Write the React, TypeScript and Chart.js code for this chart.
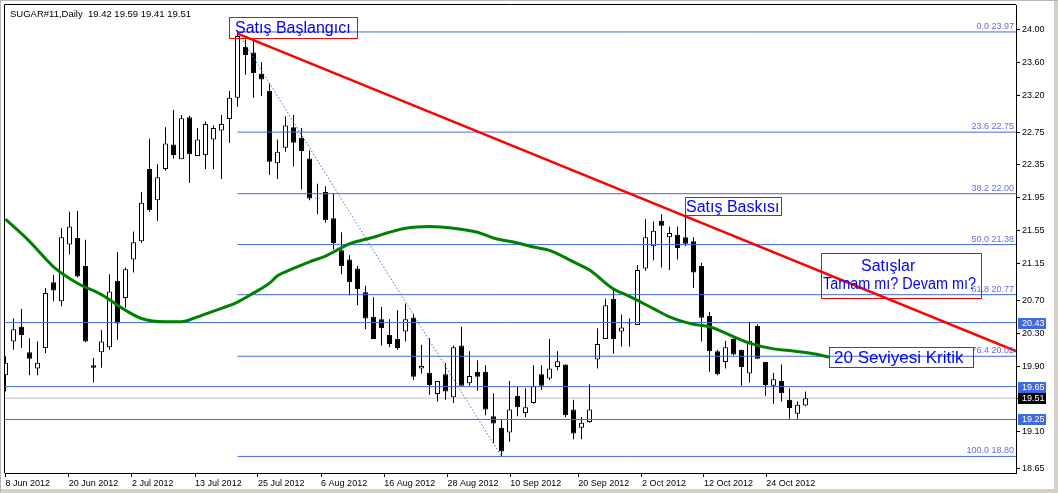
import React, { useEffect, useRef } from "react";
import { Chart, registerables } from "chart.js";

Chart.register(...registerables);

// ---------- data ----------
const symbolLabel = "SUGAR#11,Daily";
const lastQuote = [19.42, 19.59, 19.41, 19.51];

const opens = [
  19.79, 20.2, 20.38, 20.07, 19.87, 20.12, 20.92, 20.69, 21.38, 21.46,
  21.12, 19.91, 20.07, 20.13, 20.94, 20.73, 21.2, 21.42, 22.3, 21.92,
  22.3, 22.6, 22.42, 22.93, 22.46, 22.47, 22.66, 22.77, 22.91, 23.17,
  23.79, 23.72, 23.46, 23.25, 22.37, 22.56, 22.81, 22.68, 22.43, 21.95,
  22.02, 21.7, 21.31, 21.2, 21.09, 20.8, 20.5, 20.47, 20.28, 20.23,
  20.32, 20.49, 19.87, 19.82, 19.56, 19.8, 19.52, 20.15, 19.69, 19.83,
  19.83, 19.29, 19.15, 19.09, 19.54, 19.33, 19.45, 19.8, 19.75, 19.89,
  19.92, 19.37, 19.15, 19.22, 19.98, 20.23, 20.72, 20.32, 20.42, 20.4,
  21.09, 21.36, 21.67, 21.47, 21.5, 21.47, 21.42, 21.12, 20.51, 20.08,
  19.95, 20.23, 20.1, 19.81, 20.39, 19.95, 19.66, 19.72, 19.49, 19.32,
  19.42,
];
const highs = [
  20.02, 20.48, 20.6, 20.24, 20.2, 20.85, 21.01, 21.58, 21.78, 21.79,
  21.44, 20.0, 20.34, 21.02, 21.29, 21.1, 21.54, 22.02, 22.67, 22.36,
  22.81, 23.02, 22.96, 22.95, 22.8, 22.88, 22.83, 22.96, 23.25, 23.97,
  23.88, 23.88, 23.6, 23.34, 22.66, 22.94, 22.96, 22.8, 22.53, 22.12,
  22.09, 22.0, 21.53, 21.25, 21.12, 20.88, 20.74, 20.62, 20.47, 20.58,
  20.66, 20.54, 20.16, 20.24, 19.72, 19.94, 20.15, 20.38, 20.08, 19.97,
  19.91, 19.57, 19.25, 19.72, 19.65, 19.63, 19.91, 19.91, 20.23, 20.08,
  19.92, 19.49, 19.28, 19.68, 20.36, 20.72, 20.85, 20.53, 20.48, 21.13,
  21.69, 21.66, 21.75, 21.6, 21.6, 21.72, 21.47, 21.16, 20.56, 20.1,
  20.21, 20.24, 20.1, 20.44, 20.41, 19.95, 19.82, 19.92, 19.63, 19.47,
  19.59,
];
const lows = [
  19.59, 20.1, 20.12, 19.79, 19.79, 20.06, 20.69, 20.63, 21.26, 20.98,
  20.19, 19.7, 19.88, 20.1, 20.22, 20.61, 21.04, 21.4, 21.78, 21.67,
  22.28, 22.43, 22.42, 22.13, 22.46, 22.3, 22.3, 22.18, 22.62, 23.06,
  23.45, 23.17, 23.19, 22.23, 22.18, 22.51, 22.33, 22.05, 21.92, 21.75,
  21.65, 21.32, 21.02, 20.76, 20.64, 20.35, 20.23, 20.15, 20.13, 20.1,
  20.2, 19.73, 19.81, 19.55, 19.47, 19.49, 19.45, 19.66, 19.66, 19.6,
  19.3, 18.96, 18.8, 18.98, 19.29, 19.28, 19.44, 19.61, 19.73, 19.85,
  19.28, 19.01, 19.01, 19.21, 19.87, 20.23, 20.05, 20.14, 20.14, 20.4,
  21.06, 21.19, 21.1, 21.07, 21.2, 21.36, 20.85, 20.2, 19.83, 19.79,
  19.87, 20.03, 19.66, 19.7, 19.99, 19.54, 19.44, 19.47, 19.26, 19.26,
  19.41,
];
const closes = [
  19.94, 20.35, 20.28, 19.99, 19.94, 20.79, 20.82, 21.47, 21.6, 20.99,
  20.2, 19.88, 20.2, 20.81, 20.42, 21.08, 21.41, 21.89, 21.8, 22.2,
  22.61, 22.47, 22.92, 22.48, 22.66, 22.85, 22.8, 22.85, 23.17, 23.92,
  23.69, 23.47, 23.39, 22.39, 22.51, 22.83, 22.62, 22.52, 21.94, 21.94,
  21.68, 21.4, 21.12, 20.92, 20.84, 20.48, 20.23, 20.36, 20.17, 20.12,
  20.47, 19.77, 19.9, 19.67, 19.72, 19.59, 20.13, 19.66, 19.78, 19.77,
  19.37, 19.2, 18.86, 19.37, 19.4, 19.4, 19.66, 19.66, 19.87, 19.96,
  19.3, 19.08, 19.21, 19.37, 20.17, 20.64, 20.23, 20.37, 20.43, 21.07,
  21.47, 21.55, 21.61, 21.52, 21.34, 21.39, 21.04, 20.49, 20.08, 19.8,
  20.13, 20.04, 19.89, 20.21, 19.99, 19.67, 19.74, 19.57, 19.39, 19.43,
  19.51,
];

const dateTickIndex = [0, 7.9, 15.8, 23.7, 31.55, 39.45, 47.35, 55.25, 63.1, 71.6, 79.55, 87.3, 95.1];
const dateLabels = [
  "8 Jun 2012", "20 Jun 2012", "2 Jul 2012", "13 Jul 2012", "25 Jul 2012",
  "6 Aug 2012", "16 Aug 2012", "28 Aug 2012", "10 Sep 2012", "20 Sep 2012",
  "2 Oct 2012", "12 Oct 2012", "24 Oct 2012",
];
const priceTicks = [24.0, 23.6, 23.2, 22.75, 22.35, 21.95, 21.55, 21.15, 20.7, 20.3, 19.9, 19.5, 19.1, 18.65];

const maIndex = [0, 3, 6, 9, 12, 15, 17, 20, 22, 24, 26, 29, 31, 33, 34, 36, 38, 40, 43, 46, 48, 50, 53, 56, 59, 61, 64, 66, 68, 71, 73, 76, 78, 81, 83, 86, 88, 91, 93, 96, 98, 101, 103];
const maValues = [21.69, 21.42, 21.11, 20.91, 20.77, 20.58, 20.48, 20.44, 20.44, 20.5, 20.57, 20.68, 20.79, 20.91, 21.0, 21.09, 21.17, 21.24, 21.39, 21.47, 21.53, 21.58, 21.6, 21.58, 21.53, 21.46, 21.4, 21.35, 21.31, 21.17, 21.07, 20.84, 20.75, 20.6, 20.5, 20.41, 20.38, 20.26, 20.18, 20.11, 20.09, 20.05, 20.01];

const fibStartIndex = 29;
const fibLevels = [0.0, 23.6, 38.2, 50.0, 61.8, 76.4, 100.0];
const fibPrices = [23.97, 22.75, 22.0, 21.38, 20.77, 20.02, 18.8];
const levelPrices = [20.43, 19.65, 19.25];
const bidPrice = 19.51;
const trendIndex = [29, 126.4];
const trendPrices = [23.95, 20.08];
const swingIndex = [29, 62];
const swingPrices = [23.97, 18.8];

const noteTexts = [
  ["Satış Başlangıcı"],
  ["Satış Baskısı"],
  ["Satışlar", "Tamam mı? Devam mı?"],
  ["20 Seviyesi Kritik"],
];
// anchor (bar index, price) of each note box's top-left corner
const noteAnchorIndex = [27.94, 84.94, 101.94, 102.94];
const noteAnchorPrice = [24.152, 21.96, 21.278, 20.133];

// ---------- layout / style ----------
const W = 1058;
const H = 493;
const X_MIN = -0.0625;
const X_MAX = X_MIN + 1011 / 8;
const Y_MAX = 24.2984;
const Y_MIN = 18.598;
const SMALL_FONT = "Liberation Sans";
const NOTE_FONT = "Liberation Sans";
const LINE_BLUE = "#4169e1";
const FIB_TEXT = "#6b6bdf";

const noteLayout = [
  { w: 128, h: 21, size: 16, lines: [{ dx: 6, dy: 16, max: 0 }] },
  { w: 96, h: 18, size: 16, lines: [{ dx: 1, dy: 14.5, max: 0 }] },
  { w: 160, h: 45, size: 16, lines: [{ dx: 40, dy: 18, max: 64 }, { dx: 2, dy: 36, max: 153 }] },
  { w: 144, h: 20, size: 17, lines: [{ dx: 5, dy: 16, max: 136 }] },
];

const overlayPlugin = {
  id: "mtOverlay",
  beforeDraw(chart: any) {
    const { ctx } = chart;
    ctx.save();
    ctx.fillStyle = "#ffffff";
    ctx.fillRect(0, 0, W, H);
    ctx.restore();
  },
  afterDatasetsDraw(chart: any) {
    const { ctx, chartArea } = chart;
    const xs = chart.scales.x;
    const ys = chart.scales.y;
    ctx.save();
    // fib labels
    ctx.font = `9px "${SMALL_FONT}"`;
    ctx.fillStyle = FIB_TEXT;
    ctx.textAlign = "right";
    ctx.textBaseline = "bottom";
    fibLevels.forEach((lv, i) => {
      const y = ys.getPixelForValue(fibPrices[i]);
      ctx.fillText(`${lv.toFixed(1)} ${fibPrices[i].toFixed(2)}`, chartArea.right - 2, y - 1);
    });
    // notes
    noteTexts.forEach((lines, k) => {
      const lay = noteLayout[k];
      const x0 = Math.round(xs.getPixelForValue(noteAnchorIndex[k]));
      const y0 = Math.round(ys.getPixelForValue(noteAnchorPrice[k]));
      ctx.strokeStyle = "#ff0000";
      ctx.lineWidth = 1;
      ctx.strokeRect(x0 + 0.5, y0 + 0.5, lay.w, lay.h);
      ctx.fillStyle = "#0000ff";
      ctx.textAlign = "left";
      ctx.textBaseline = "alphabetic";
      ctx.font = `${lay.size}px "${NOTE_FONT}"`;
      lines.forEach((t, j) => {
        const l = lay.lines[j];
        if (l.max) ctx.fillText(t, x0 + l.dx, y0 + l.dy, l.max);
        else ctx.fillText(t, x0 + l.dx, y0 + l.dy);
      });
    });
    ctx.restore();
  },
  afterDraw(chart: any) {
    const { ctx, chartArea } = chart;
    const ys = chart.scales.y;
    ctx.save();
    // plot frame (top / left)
    ctx.strokeStyle = "#000000";
    ctx.lineWidth = 1;
    ctx.beginPath();
    ctx.moveTo(chartArea.left - 0.5, chartArea.bottom);
    ctx.lineTo(chartArea.left - 0.5, chartArea.top - 0.5);
    ctx.lineTo(chartArea.right, chartArea.top - 0.5);
    ctx.stroke();
    // header
    ctx.fillStyle = "#000000";
    ctx.font = `9.5px "${SMALL_FONT}"`;
    ctx.textAlign = "left";
    ctx.textBaseline = "alphabetic";
    ctx.fillText(`${symbolLabel}  ${lastQuote.map((v) => v.toFixed(2)).join(" ")}`, 10, 17);
    // price boxes on axis
    const box = (price: number, bg: string) => {
      const y = Math.round(ys.getPixelForValue(price));
      ctx.fillStyle = bg;
      ctx.fillRect(chartArea.right + 2, y - 5, 28, 11);
      ctx.fillStyle = "#ffffff";
      ctx.font = `9px "${SMALL_FONT}"`;
      ctx.textBaseline = "middle";
      ctx.fillText(price.toFixed(2), chartArea.right + 6, y + 0.5);
    };
    levelPrices.forEach((p) => box(p, LINE_BLUE));
    box(bidPrice, "#000000");
    // window frame
    ctx.fillStyle = "#d4d0c8";
    ctx.fillRect(0, H - 4, W, 4);
    ctx.fillRect(W - 4, 0, 4, H);
    ctx.fillStyle = "#b8b8b8";
    ctx.fillRect(0, 0, W, 1);
    ctx.fillRect(0, 0, 1, H);
    ctx.restore();
  },
};

export default function App() {
  const ref = useRef<HTMLCanvasElement>(null);

  useEffect(() => {
    const canvas = ref.current;
    if (!canvas) return;

    const bodies = opens.map((o, i) => ({ x: i, y: [Math.min(o, closes[i]), Math.max(o, closes[i])] }));
    const wicks = highs.map((h, i) => ({ x: i, y: [lows[i], h] }));
    const bodyFill = opens.map((o, i) => (closes[i] >= o ? "#ffffff" : "#000000"));

    const flat = (price: number, from: number) => [
      { x: from, y: price },
      { x: X_MAX, y: price },
    ];
    const lineBase = { type: "line", pointRadius: 0, borderWidth: 1, fill: false, tension: 0 };

    const datasets: any[] = [
      {
        ...lineBase,
        label: "trend",
        data: trendIndex.map((x, i) => ({ x, y: trendPrices[i] })),
        borderColor: "#ff0000",
        borderWidth: 2.5,
        order: 0,
      },
      {
        ...lineBase,
        label: "MA",
        data: maIndex.map((x, i) => ({ x, y: maValues[i] })),
        borderColor: "#008000",
        borderWidth: 3,
        cubicInterpolationMode: "monotone",
        order: 1,
      },
      {
        ...lineBase,
        label: "swing",
        data: swingIndex.map((x, i) => ({ x, y: swingPrices[i] })),
        borderColor: LINE_BLUE,
        borderDash: [1.5, 2],
        order: 2,
      },
      ...fibPrices.map((p) => ({
        ...lineBase,
        label: "fib",
        data: flat(p, fibStartIndex),
        borderColor: LINE_BLUE,
        order: 3,
      })),
      ...levelPrices.map((p) => ({
        ...lineBase,
        label: "level",
        data: flat(p, X_MIN),
        borderColor: LINE_BLUE,
        order: 3,
      })),
      {
        ...lineBase,
        label: "bid",
        data: flat(bidPrice, X_MIN),
        borderColor: "#c0c0c0",
        order: 6,
      },
      {
        type: "bar",
        label: "body",
        data: bodies,
        backgroundColor: bodyFill,
        borderColor: "#000000",
        borderWidth: 1,
        borderSkipped: false,
        inflateAmount: 0,
        barThickness: 5,
        grouped: false,
        order: 4,
      },
      {
        type: "bar",
        label: "wick",
        data: wicks,
        backgroundColor: "#000000",
        borderWidth: 0,
        inflateAmount: 0,
        barThickness: 1,
        grouped: false,
        order: 5,
      },
    ];

    const smallFont = { family: SMALL_FONT, size: 9 };

    const chart = new Chart(canvas, {
      type: "bar",
      data: { datasets },
      options: {
        animation: false,
        responsive: false,
        devicePixelRatio: 1,
        events: [],
        layout: { padding: { left: 5, top: 5, right: 0, bottom: 0 } },
        plugins: { legend: { display: false }, tooltip: { enabled: false }, title: { display: false } },
        scales: {
          x: {
            type: "linear",
            min: X_MIN,
            max: X_MAX,
            offset: false,
            afterBuildTicks: (axis: any) => {
              axis.ticks = dateTickIndex.map((v) => ({ value: v }));
            },
            afterFit: (axis: any) => {
              axis.height = 20;
              axis.paddingLeft = 0;
              axis.paddingRight = 0;
            },
            ticks: {
              autoSkip: false,
              maxRotation: 0,
              minRotation: 0,
              align: "start",
              padding: 1,
              color: "#000000",
              font: smallFont,
              callback: (_v: any, i: number) => dateLabels[i],
            },
            grid: { drawOnChartArea: false, drawTicks: true, tickLength: 4, color: "#000000", offset: false },
            border: { display: true, color: "#000000", width: 1 },
          },
          y: {
            type: "linear",
            position: "right",
            min: Y_MIN,
            max: Y_MAX,
            afterBuildTicks: (axis: any) => {
              axis.ticks = priceTicks.map((v) => ({ value: v }));
            },
            afterFit: (axis: any) => {
              axis.width = 42;
              axis.paddingTop = 0;
              axis.paddingBottom = 0;
            },
            ticks: {
              padding: 2,
              color: "#000000",
              font: smallFont,
              callback: (v: any) => Number(v).toFixed(2),
            },
            grid: { drawOnChartArea: false, drawTicks: true, tickLength: 4, color: "#000000" },
            border: { display: true, color: "#000000", width: 1 },
          },
        },
      } as any,
      plugins: [overlayPlugin],
    });

    return () => chart.destroy();
  }, []);

  return (
    <div style={{ position: "absolute", left: 0, top: 0, width: W, height: H, background: "#ffffff" }}>
      <canvas ref={ref} width={W} height={H} style={{ display: "block", width: W, height: H }} />
    </div>
  );
}
